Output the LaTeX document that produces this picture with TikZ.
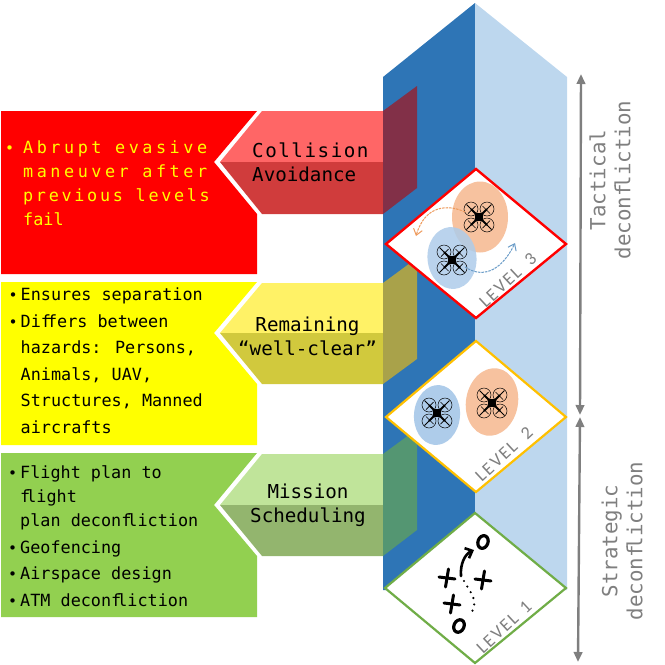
\documentclass[tikz,border=0pt]{standalone}
\usepackage{fontspec}
\usetikzlibrary{arrows.meta}
\setmainfont{DejaVu Sans Mono}
\newfontfamily\monoA[LetterSpace=21]{DejaVu Sans Mono}
\newfontfamily\monoB[LetterSpace=16]{DejaVu Sans Mono}
\newfontfamily\monoC[LetterSpace=8]{DejaVu Sans Mono}
\newfontfamily\lvl[LetterSpace=10]{Carlito}
\newcommand{\bul}{\makebox[0pt][r]{\fontsize{15}{15}\selectfont •\hspace{3pt}}}
\newcommand{\bulr}{\makebox[0pt][r]{\fontsize{15}{15}\selectfont •\hspace{9pt}}}
\newcommand{\lig}{f\kern-4pt l}
\newcommand{\ligb}{f\kern-4pt f}
\definecolor{colD}{HTML}{2E75B6}
\definecolor{colL}{HTML}{BDD7EE}
\definecolor{grayT}{HTML}{7F7F7F}
\definecolor{orgE}{HTML}{F7C29F}
\definecolor{bluE}{HTML}{AECCEA}
\definecolor{redB}{HTML}{FF0000}
\definecolor{redU}{HTML}{FF6666}
\definecolor{redL}{HTML}{D03C3C}
\definecolor{redO}{HTML}{823048}
\definecolor{yelB}{HTML}{FFFF00}
\definecolor{yelU}{HTML}{FFF266}
\definecolor{yelL}{HTML}{D1C93D}
\definecolor{yelO}{HTML}{A9A24A}
\definecolor{grnB}{HTML}{92D050}
\definecolor{grnU}{HTML}{C0E49A}
\definecolor{grnL}{HTML}{93B56E}
\definecolor{grnO}{HTML}{549672}
\definecolor{diaY}{HTML}{FFC000}
\definecolor{diaG}{HTML}{70AD47}
\definecolor{arrO}{HTML}{EE9A5C}
\definecolor{arrB}{HTML}{6A9CC8}
\tikzset{
  x=1pt,y=-1pt,
  listtext/.style={inner sep=0pt,anchor=base west,align=left,text=black,font=\fontsize{16.8}{26.5}\selectfont},
  chevlabel/.style={inner sep=0pt,anchor=base,text=black,font=\fontsize{19.2}{23.5}\selectfont},
  sidelabel/.style={inner sep=0pt,rotate=90,text=grayT,align=center,font=\fontsize{20.8}{25}\selectfont},
  lvllabel/.style={inner sep=0pt,rotate=43,text=grayT,font=\lvl\fontsize{18}{18}\selectfont},
  sidearrow/.style={draw=grayT,line width=2.4pt,{Triangle[length=10pt,width=8.5pt]}-{Triangle[length=10pt,width=8.5pt]}},
  dia/.style={fill=white,line join=miter},
  pics/drone/.style={code={
    \foreach \sx/\sy in {1/1,1/-1,-1/1,-1/-1}{
      \draw[line width=.5pt] (\sx*8,\sy*8) circle[radius=7];
      \draw[line width=1.9pt] (0,0) -- (\sx*8,\sy*8);
      \draw[line width=1pt] (\sx*8,\sy*8) -- (\sx*12.5,\sy*12.5);
      \draw[line width=.7pt] (\sx*3.5,\sy*11) -- (\sx*11,\sy*3.5);
    }
    \fill (-3.8,-3.8) rectangle (3.8,3.8);
  }},
  xmark/.style={line width=3pt,line cap=round},
}
\begin{document}
\begin{tikzpicture}
\useasboundingbox (0,0) rectangle (665,665);
% column
\fill[colD] (383,77) -- (475,3) -- (475,590) -- (383,590) -- cycle;
\fill[colL] (475,3) -- (567,77) -- (567,590) -- (475,590) -- cycle;
% red level
\fill[redB] (1,111) -- (257,111) -- (214,162) -- (257,214) -- (257,274) -- (1,274) -- cycle;
\fill[redU] (262,111) -- (383,111) -- (383,162) -- (220,162) -- cycle;
\fill[redL] (220,162) -- (383,162) -- (383,214) -- (262,214) -- cycle;
\fill[redO] (383,111) -- (417,86) -- (417,188) -- (383,214) -- cycle;
% yellow level
\fill[yelB] (1,282) -- (257,282) -- (214,333) -- (257,384) -- (257,445) -- (1,445) -- cycle;
\fill[yelU] (262,283) -- (383,283) -- (383,333) -- (220,333) -- cycle;
\fill[yelL] (220,333) -- (383,333) -- (383,384) -- (262,384) -- cycle;
\fill[yelO] (383,283) -- (417,258) -- (417,359) -- (383,384) -- cycle;
% green level
\fill[grnB] (1,453) -- (257,453) -- (214,505) -- (257,556) -- (257,617) -- (1,617) -- cycle;
\fill[grnU] (262,454) -- (383,454) -- (383,505) -- (220,505) -- cycle;
\fill[grnL] (220,505) -- (383,505) -- (383,556) -- (262,556) -- cycle;
\fill[grnO] (383,454) -- (417,429) -- (417,530) -- (383,556) -- cycle;
% diamonds
\draw[dia,draw=redB,line width=2.4pt] (476,169) -- (566,244) -- (476,318) -- (386,244) -- cycle;
\draw[dia,draw=diaY,line width=2.2pt] (476,341) -- (566,417) -- (476,492) -- (386,417) -- cycle;
\draw[dia,draw=diaG,line width=2.2pt] (475,513) -- (566,588) -- (475,663) -- (385,588) -- cycle;
% level 3
\fill[orgE] (480,217) ellipse[x radius=28,y radius=35.5];
\fill[bluE,opacity=.85,rotate around={5:(452,258)}] (452,258) ellipse[x radius=24.5,y radius=31];
\pic at (479,217) {drone};
\pic at (452,260) {drone};
\coordinate (o1) at (465,212); \coordinate (o2) at (416,236);
\coordinate (b1) at (465,267); \coordinate (b2) at (515,243);
\draw[arrO,line width=1pt,dash pattern=on 2.5pt off 1pt,-{Straight Barb[length=6pt,width=9pt]}] (o1) .. controls (448,204) and (425,205) .. (o2);
\draw[arrB,line width=1pt,dash pattern=on 2.5pt off 1pt,-{Straight Barb[length=6pt,width=9pt]}] (b1) .. controls (485,280) and (503,268) .. (b2);
\node[lvllabel] (l3) at (508,280) {LEVEL\hspace{6pt} 3};
% level 2
\fill[bluE,rotate around={-5:(437,415)}] (437,415) ellipse[x radius=23,y radius=30];
\fill[orgE,rotate around={-10:(492,402)}] (492,402) ellipse[x radius=26,y radius=34];
\pic at (437,413) {drone};
\pic at (492,403) {drone};
\node[lvllabel] (l2) at (504,454) {LEVEL\hspace{6pt} 2};
% level 1
\draw[line width=3.2pt,rotate around={-20:(483,542)}] (483,542) ellipse[x radius=5,y radius=6.5];
\draw[line width=3.2pt,rotate around={-25:(459,626)}] (459,626) ellipse[x radius=5,y radius=6.5];
\coordinate (p1) at (461,576); \coordinate (p2) at (474,550);
\draw[line width=2.6pt,line cap=round,-{Straight Barb[length=6pt,width=11pt]}] (p1) .. controls (460,564) and (465,554) .. (p2);
\foreach \cx/\cy in {447/578,483/580,452/604}{
  \draw[xmark] (\cx-8,\cy-1) -- (\cx+8,\cy+1);
  \draw[xmark] (\cx+1.5,\cy-9) -- (\cx-1.5,\cy+9);
}
\coordinate (q1) at (464,581); \coordinate (q2) at (469,616);
\draw[line width=2.4pt,line cap=round,dash pattern=on 0pt off 6.5pt] (q1) .. controls (469,590) and (476,598) .. (474,606) .. controls (473,611) and (471,614) .. (q2);
\node[lvllabel] (l1) at (504,627) {LEVEL\hspace{3pt} 1};
% text
\node[inner sep=0pt,anchor=base west,align=left,text=yelB,font=\fontsize{16.8}{24}\selectfont] (t1) at (23,225)
 {\bulr{\monoA Abrupt evasive}\\ {\monoA maneuver after}\\ {\monoB previous levels}\\ fail};
\node[listtext] (t2) at (20.5,433)
 {\bul Ensures separation\\ \bul Di\ligb ers between\\ hazards: Persons,\\ Animals, UAV,\\ Structures, Manned\\ aircrafts};
\node[listtext] (t3) at (20,606)
 {\bul Flight plan to\\[-2.5pt] \lig ight\\[-2.5pt] plan decon\lig iction\\ \bul Geofencing\\ \bul Airspace design\\ \bul ATM decon\lig iction};
\node[chevlabel,anchor=base west,align=left] (c1) at (252,181) {{\monoC Collision}\\ Avoidance};
\node[chevlabel,align=center] (c2) at (307.5,355) {Remaining\\ “well-clear”};
\node[chevlabel,align=center] (c3) at (308,522) {Mission\\ Scheduling};
\node[sidelabel] (s1) at (610,180) {Tactical\\ decon\lig iction};
\node[sidelabel] (s2) at (622,541) {Strategic\\ decon\lig iction};
% arrows
\coordinate (a1) at (581,74); \coordinate (a2) at (580,415);
\coordinate (a3) at (580,417); \coordinate (a4) at (578,662);
\draw[sidearrow] (a1) -- (a2);
\draw[sidearrow] (a3) -- (a4);
\end{tikzpicture}
\end{document}
